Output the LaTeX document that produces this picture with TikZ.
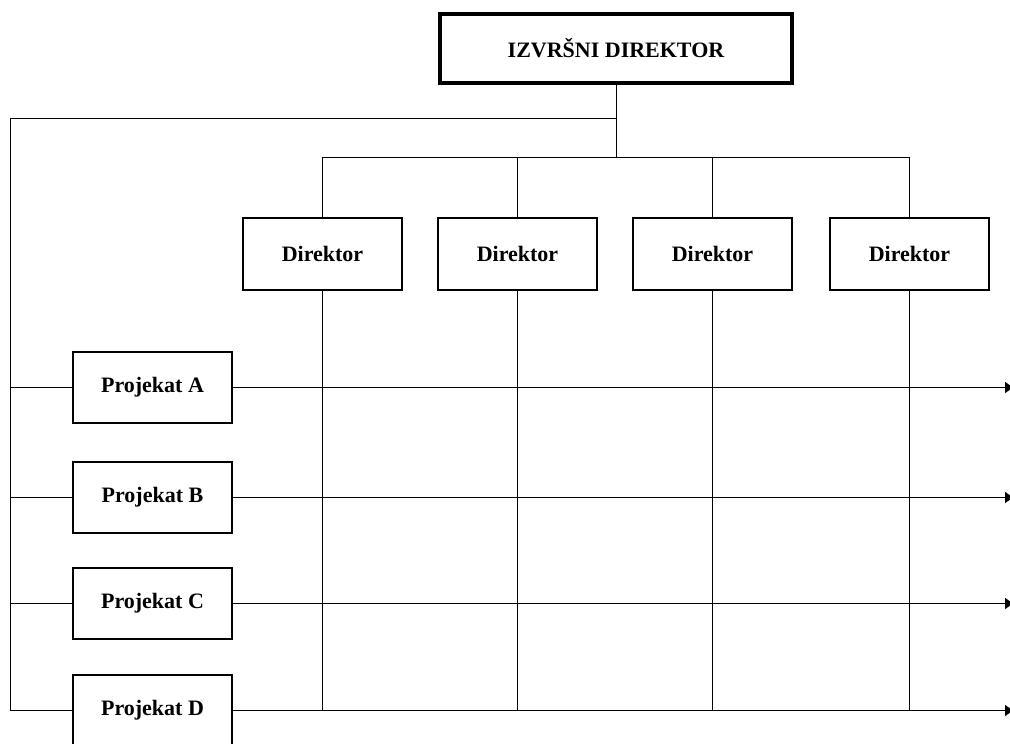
\documentclass[tikz,border=0pt]{standalone}
\usepackage{fontspec}
\setmainfont{Liberation Serif}
\usetikzlibrary{arrows.meta}
\begin{document}
\begin{tikzpicture}[x=1pt,y=-1pt,
  every node/.style={font=\fontsize{22}{26}\selectfont\bfseries, inner sep=0pt, align=center},
  ceobox/.style={draw, line width=4pt, minimum width=352pt, minimum height=69pt},
  dirbox/.style={draw, line width=2pt, minimum width=159pt, minimum height=72pt},
  projbox/.style={draw, line width=2pt, minimum width=159pt, minimum height=71pt},
  link/.style={line width=1pt},
  flow/.style={line width=1pt, -{Latex[length=9pt,width=12pt]}}]
\useasboundingbox (0,0) rectangle (1010,744);
\clip (0,0) rectangle (1010,744);

% chief executive
\node[ceobox] (ceo) at (616,48.5) {IZVRŠNI DIREKTOR};

% directors
\node[dirbox] (d1) at (322.5,254) {Direktor};
\node[dirbox] (d2) at (517.5,254) {Direktor};
\node[dirbox] (d3) at (712.5,254) {Direktor};
\node[dirbox] (d4) at (909.5,254) {Direktor};

% projects
\node[projbox] (pA) at (152.5,387.5) {Projekat A};
\node[projbox] (pB) at (152.5,497.5) {Projekat B};
\node[projbox] (pC) at (152.5,603.5) {Projekat C};
\node[projbox] (pD) at (152.5,710.5) {Projekat D};

% junction points
\coordinate (bus) at (617,157);
\coordinate (lt) at (10,118);
\coordinate (re) at (1014,0);

% chief executive to directors
\draw[link] (ceo.south) -- (ceo.south |- bus);
\draw[link] (d1.north |- bus) -- (d4.north |- bus);
\foreach \d in {d1,d2,d3,d4}{
  \draw[link] (\d.north |- bus) -- (\d.north);
  \draw[link] (\d.south) -- (\d.south |- pD.east);
}

% chief executive to projects
\draw[link] (ceo.south |- lt) -- (lt) -- (lt |- pD.west) -- (pD.west);
\foreach \p in {pA,pB,pC}{
  \draw[link] (lt |- \p.west) -- (\p.west);
}

% project flows across the directorates
\foreach \p in {pA,pB,pC,pD}{
  \draw[flow] (\p.east) -- (\p.east -| re);
}
\end{tikzpicture}
\end{document}
